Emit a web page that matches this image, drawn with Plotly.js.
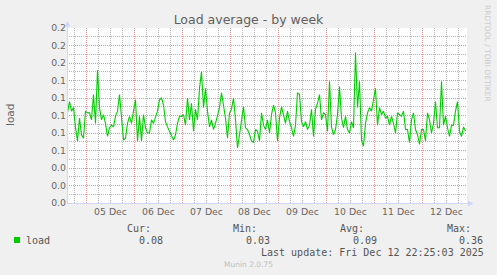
<!DOCTYPE html>
<html><head><meta charset="utf-8">
<script src="https://cdn.plot.ly/plotly-3.0.1.min.js"></script>
<style>html,body{margin:0;padding:0;background:#F0F0F0;overflow:hidden}#chart{width:497px;height:275px}</style>
</head><body><div id="chart"></div>
<script>
// ---- data ----
const startTime = '2025-12-04T14:30:00Z';
const stepMs = 3600000;
const loadValues = [
0.103,0.116,0.105,0.109,0.086,0.071,0.097,0.078,0.074,0.105,
0.103,0.103,0.095,0.124,0.091,0.152,0.109,0.095,0.101,0.091,
0.076,0.086,0.089,0.087,0.099,0.105,0.124,0.093,0.072,0.074,
0.091,0.099,0.091,0.105,0.118,0.071,0.099,0.071,0.101,0.086,
0.080,0.080,0.095,0.091,0.097,0.105,0.118,0.120,0.112,0.093,
0.087,0.082,0.078,0.072,0.078,0.091,0.099,0.099,0.101,0.089,
0.120,0.095,0.114,0.082,0.107,0.095,0.131,0.150,0.109,0.131,
0.105,0.087,0.095,0.084,0.091,0.101,0.109,0.126,0.112,0.097,
0.074,0.103,0.107,0.120,0.095,0.063,0.078,0.095,0.110,0.086,
0.084,0.078,0.071,0.069,0.084,0.082,0.071,0.103,0.089,0.084,
0.095,0.080,0.101,0.112,0.103,0.071,0.097,0.110,0.099,0.091,
0.105,0.093,0.086,0.076,0.089,0.126,0.124,0.093,0.087,0.093,
0.084,0.089,0.107,0.076,0.107,0.114,0.124,0.095,0.103,0.101,
0.082,0.139,0.087,0.078,0.084,0.101,0.133,0.097,0.086,0.099,
0.084,0.080,0.093,0.086,0.172,0.109,0.139,0.072,0.065,0.091,
0.103,0.109,0.105,0.116,0.131,0.089,0.109,0.101,0.105,0.097,
0.099,0.089,0.099,0.091,0.080,0.103,0.101,0.099,0.105,0.084,
0.084,0.069,0.095,0.103,0.084,0.078,0.067,0.084,0.084,0.071,
0.103,0.095,0.080,0.091,0.116,0.086,0.086,0.139,0.089,0.099,
0.086,0.076,0.089,0.089,0.105,0.116,0.082,0.076,0.087,0.082
];
const xRange = ['2025-12-04 14:15', '2025-12-12 22:15'];
const seriesName = 'load';
const statLabels = ['Cur:', 'Min:', 'Avg:', 'Max:'];
const statValues = ['0.08', '0.03', '0.09', '0.36'];
const titleText = 'Load average - by week';
const yTitle = 'load';
const lastUpdate = 'Last update: Fri Dec 12 22:25:03 2025';
const watermark = 'RRDTOOL / TOBI OETIKER';
const footer = 'Munin 2.0.75';

// ---- build ----
const fmt = ms => new Date(ms).toISOString().slice(0, 19).replace('T', ' ');
const t0 = Date.parse(startTime);
const xTimes = loadValues.map((v, i) => fmt(t0 + i * stepMs));

// minor (6-hour) grid positions that are not at midnight, derived from the range
const rStart = Date.parse(xRange[0].replace(' ', 'T') + ':00Z');
const rEnd = Date.parse(xRange[1].replace(' ', 'T') + ':00Z');
const sixH = 6 * 3600000;
const minorX = [];
for (let t = Math.ceil(rStart / sixH) * sixH; t <= rEnd; t += sixH) {
  if (t % 86400000 !== 0) minorX.push(fmt(t));
}

const L = 67, R = 467, T = 28, B = 203;
const px = x => (x - L) / (R - L);
const py = y => (B - y) / (B - T);

const FONT = 'DejaVu Sans, Verdana, sans-serif';
const MONO = 'DejaVu Sans Mono, monospace';
const fontCol = '#666666';
const mgrid = '#e39393';
const grid = '#b4b4b4';
const axisCol = '#CFD6F8';
const dot = '1px,1px';

const ann = [];
function txt(text, x, y, opts) {
  ann.push(Object.assign({text: text, xref: 'paper', yref: 'paper', x: px(x), y: py(y),
    showarrow: false, xanchor: 'left', yanchor: 'middle', borderpad: 0, borderwidth: 0,
    font: {family: MONO, size: 10, color: '#555555'}}, opts || {}));
}
txt(yTitle, 10, 115, {xanchor: 'center', textangle: -90, font: {family: FONT, size: 10.5, color: fontCol}});
txt(watermark, 488, 53, {xanchor: 'center', textangle: 90, font: {family: FONT, size: 7.5, color: '#cccccc'}});
txt(seriesName, 26, 240);
const statX = [127, 233, 340, 447];
const valX = [139, 246, 353, 459];
statLabels.forEach((s, i) => txt(s, statX[i], 228.5));
statValues.forEach((s, i) => txt(s, valX[i], 240));
txt(lastUpdate, 261, 252);
txt(footer, 248, 264, {xanchor: 'center', font: {family: FONT, size: 7.5, color: '#c0c0c0'}});

const shapes = [
  {type: 'rect', xref: 'paper', yref: 'paper', x0: px(14), x1: px(20), y0: py(243), y1: py(237), fillcolor: '#00CC00', line: {width: 0}},
  {type: 'line', xref: 'paper', yref: 'paper', x0: px(67.5), x1: px(67.5), y0: py(203.5), y1: py(25), line: {color: axisCol, width: 1}},
  {type: 'line', xref: 'paper', yref: 'paper', x0: px(67), x1: px(469), y0: py(203.5), y1: py(203.5), line: {color: axisCol, width: 1}},
  {type: 'path', xref: 'paper', yref: 'paper', path: `M${px(64.5)},${py(26.5)} L${px(67.5)},${py(21)} L${px(70.5)},${py(26.5)} Z`, fillcolor: axisCol, line: {width: 0}},
  {type: 'path', xref: 'paper', yref: 'paper', path: `M${px(468)},${py(200.5)} L${px(473.5)},${py(203.5)} L${px(468)},${py(206.5)} Z`, fillcolor: axisCol, line: {width: 0}}
];

const data = [
  {type: 'scatter', mode: 'lines', x: [], y: [], xaxis: 'x2', yaxis: 'y2', hoverinfo: 'skip', showlegend: false},
  {type: 'scatter', mode: 'lines', x: xTimes, y: loadValues, name: seriesName,
   line: {color: '#00CC00', width: 1.1}, hoverinfo: 'skip'}
];

const tickFont = {family: FONT, size: 9.3, color: fontCol};
const layout = {
  width: 497, height: 275,
  margin: {l: L, r: 497 - R, t: T, b: 275 - B, pad: 0},
  paper_bgcolor: '#F0F0F0', plot_bgcolor: '#FFFFFF',
  showlegend: false,
  title: {text: titleText, x: 0.5, xref: 'container', xanchor: 'center', y: 1 - 19.5 / 275, yref: 'container', yanchor: 'middle',
    font: {family: FONT, size: 12.5, color: '#606060'}},
  xaxis: {type: 'date', range: xRange, dtick: 86400000, tick0: '2025-12-05', tickformat: '%d %b', ticklabelmode: 'period',
    showgrid: true, gridcolor: mgrid, griddash: dot, gridwidth: 1, ticklabelstandoff: 2,
    showline: false, zeroline: false, ticks: '', tickfont: tickFont, fixedrange: true},
  xaxis2: {type: 'date', range: xRange, overlaying: 'x', anchor: 'y2', tickmode: 'array', tickvals: minorX,
    showticklabels: false, showgrid: true, gridcolor: grid, griddash: dot, gridwidth: 1,
    showline: false, zeroline: false, ticks: '', fixedrange: true},
  yaxis: {range: [0, 0.2], dtick: 0.02, tick0: 0, tickformat: '.1f',
    showgrid: true, gridcolor: mgrid, griddash: dot, gridwidth: 1,
    showline: false, zeroline: false, ticks: '', tickfont: tickFont, fixedrange: true},
  yaxis2: {range: [0, 0.2], dtick: 0.02, tick0: 0.01, overlaying: 'y', anchor: 'x2',
    showticklabels: false, showgrid: true, gridcolor: grid, griddash: dot, gridwidth: 1,
    showline: false, zeroline: false, ticks: '', fixedrange: true},
  annotations: ann,
  shapes: shapes
};
Plotly.newPlot('chart', data, layout, {staticPlot: true, displayModeBar: false});
</script></body></html>
